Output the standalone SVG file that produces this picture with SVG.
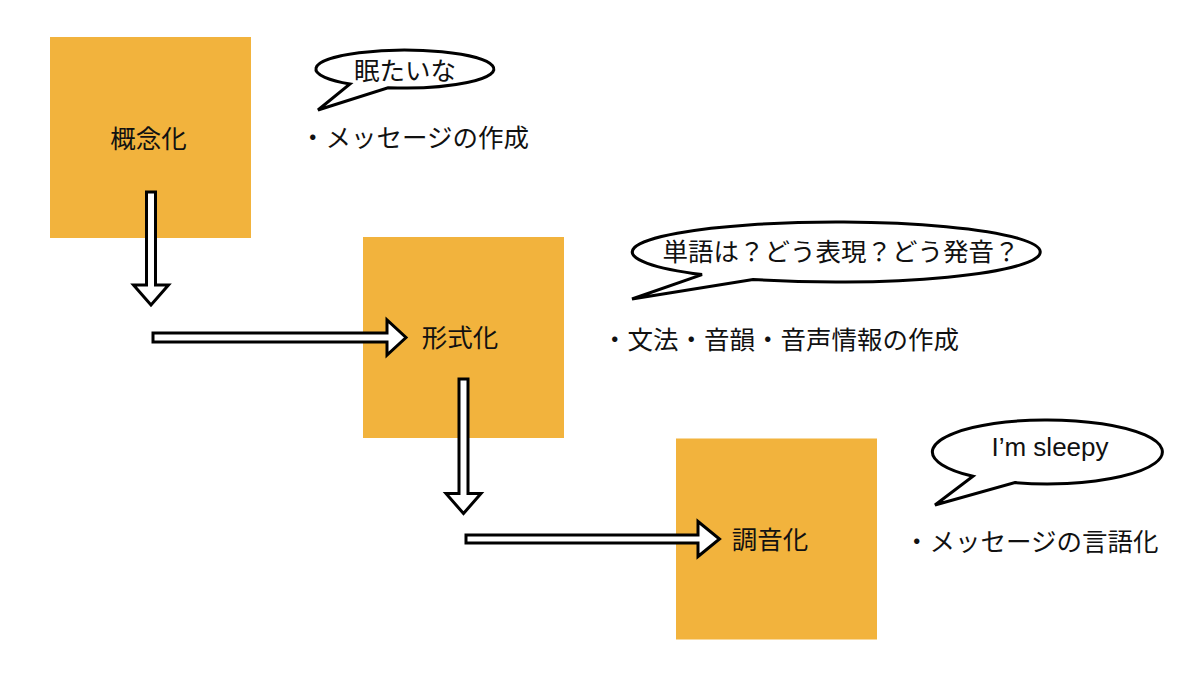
<svg xmlns="http://www.w3.org/2000/svg" width="1200" height="675" viewBox="0 0 1200 675">
<style>
.box{fill:#F2B33D;}
.jp{font-family:"Noto Sans CJK JP","Noto Sans",sans-serif;font-size:25.5px;fill:#111;dominant-baseline:central;}
.en{font-family:"Liberation Sans",Arial,sans-serif;font-size:26px;fill:#111;}
.arrow{fill:#fff;stroke:#000;stroke-width:3;stroke-linejoin:miter;}
.bubble{fill:#fff;stroke:#000;stroke-width:3;stroke-linejoin:miter;}
</style>
<rect width="1200" height="675" fill="#fff"/>
<g id="node-gainen">
<rect class="box" x="50" y="37" width="201" height="201"/>
<text class="jp" x="148.5" y="136.5" text-anchor="middle">概念化</text>
</g>
<g id="node-keishiki">
<rect class="box" x="363" y="237" width="201" height="201"/>
<text class="jp" x="460" y="335.5" text-anchor="middle">形式化</text>
</g>
<g id="node-chouon">
<rect class="box" x="676" y="438.5" width="201" height="201"/>
<text class="jp" x="770" y="537.5" text-anchor="middle">調音化</text>
</g>
<g id="connectors">
<path class="arrow" d="M146.5,192 H155.5 V285 H168.5 L151,305 L133.5,285 H146.5 Z"/>
<path class="arrow" d="M153,333 H387 V320 L406,337.5 L387,355 V342 H153 Z"/>
<path class="arrow" d="M459,379 H468 V493.5 H481 L463.5,513.5 L446,493.5 H459 Z"/>
<path class="arrow" d="M466,535 H698 V521.5 L719.5,539 L698,556.5 V543 H466 Z"/>
</g>
<g id="bubble-1">
<path class="bubble" d="M350,84 A89,19 0 1 1 388,87.7 L318,110 Z"/>
<text class="jp" x="405" y="68" text-anchor="middle">眠たいな</text>
</g>
<g id="bubble-2">
<path class="bubble" d="M702,274.6 A204,30 0 1 1 753,279.4 L632,299 Z"/>
<text class="jp" x="841" y="249" text-anchor="middle">単語は？どう表現？どう発音？</text>
</g>
<g id="bubble-3">
<path class="bubble" d="M973,476.3 A115,32 0 1 1 1015,482.6 L935,505 Z"/>
<text class="en" x="1050" y="456" text-anchor="middle">I’m sleepy</text>
</g>
<g id="notes">
<text class="jp" x="300" y="135">・メッセージの作成</text>
<text class="jp" x="602" y="337">・文法・音韻・音声情報の作成</text>
<text class="jp" x="904" y="539">・メッセージの言語化</text>
</g>
</svg>
